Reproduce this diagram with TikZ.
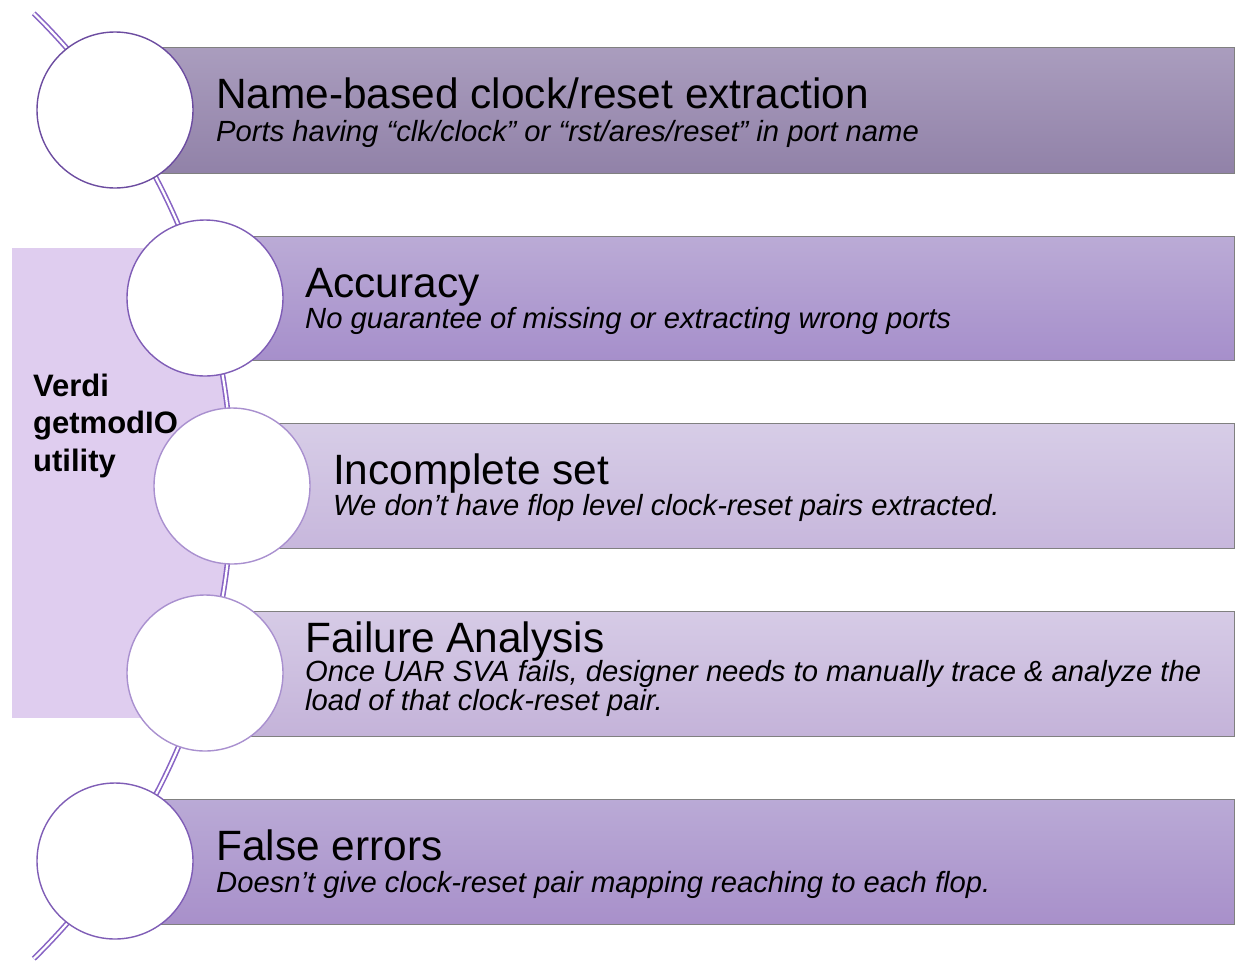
\documentclass[tikz,border=0pt]{standalone}
\usepackage{fontspec}
\setmainfont{Liberation Sans}
\definecolor{panelfill}{RGB}{223, 205, 239}
\definecolor{spinecol}{RGB}{136, 100, 196}
\definecolor{barline}{RGB}{128, 128, 128}
\definecolor{ringdark}{RGB}{108, 76, 160}
\definecolor{ringmid}{RGB}{127, 93, 182}
\definecolor{ringlight}{RGB}{169, 144, 207}
\definecolor{barAtop}{RGB}{170, 157, 190}
\definecolor{barAbot}{RGB}{145, 130, 168}
\definecolor{barBtop}{RGB}{187, 171, 214}
\definecolor{barBbot}{RGB}{166, 143, 203}
\definecolor{barCtop}{RGB}{215, 205, 231}
\definecolor{barCbot}{RGB}{199, 183, 220}
\definecolor{barDtop}{RGB}{214, 203, 230}
\definecolor{barDbot}{RGB}{196, 179, 217}
\definecolor{barEtop}{RGB}{186, 170, 214}
\definecolor{barEbot}{RGB}{168, 144, 202}

\tikzset{
  bar/.style={draw=barline, line width=1pt},
  dot/.style={circle, fill=white, minimum size=156pt, inner sep=0pt, line width=1.4pt},
  head/.style={anchor=base west, inner sep=0pt, font=\fontsize{42.4}{46}\selectfont},
  sub/.style={anchor=base west, inner sep=0pt, align=left, font=\fontsize{29.2}{29}\selectfont\itshape},
  spine/.style={draw=spinecol, line width=1.6pt, double=white, double distance=2.2pt}
}

\begin{document}
\begin{tikzpicture}[x=1pt, y=-1pt]
        \useasboundingbox (0,0) rectangle (1242,962);
        \def\rad{662.7pt}
        \coordinate (bigc) at (-430.7,486);

        % Panel - cut off by the big arc
        \begin{scope}
            \clip (bigc) circle[radius=\rad];
            \fill[panelfill] (12,248) rectangle (400,718);
        \end{scope}

        % Spine
        \draw[spine] (bigc) ++(-45.5:\rad) arc[start angle=-45.5, end angle=45.5, radius=\rad];

        % Bar 1 - Name-based
        \draw[bar, top color=barAtop, bottom color=barAbot] (115,47) rectangle (1234,173);
        % Bar 2 - Accuracy
        \draw[bar, top color=barBtop, bottom color=barBbot] (205,236) rectangle (1234,360);
        % Bar 3 - Incomplete set
        \draw[bar, top color=barCtop, bottom color=barCbot] (232,423) rectangle (1234,548);
        % Bar 4 - Failure Analysis
        \draw[bar, top color=barDtop, bottom color=barDbot] (205,611) rectangle (1234,736);
        % Bar 5 - False errors
        \draw[bar, top color=barEtop, bottom color=barEbot] (115,799) rectangle (1234,924);

        % Circles
        \node[dot, draw=ringdark] (c1) at (115,110) {};
        \node[dot, draw=ringmid] (c2) at (205,298) {};
        \node[dot, draw=ringlight] (c3) at (232,486) {};
        \node[dot, draw=ringlight] (c4) at (205,673) {};
        \node[dot, draw=ringmid] (c5) at (115,861) {};

        % Panel text (base = last line)
        \node[anchor=base west, inner sep=0pt, align=left, font=\fontsize{31}{37.5}\selectfont\bfseries] (tool) at (33,471) {Verdi\\getmodIO\\utility};

        % Texts
        \node[head] (h1) at (216,108) {Name-based clock/reset extraction};
        \node[sub] (s1) at (216,141) {Ports having “clk/clock” or “rst/ares/reset” in port name};
        \node[head] (h2) at (305,297) {Accuracy};
        \node[sub] (s2) at (305,328) {No guarantee of missing or extracting wrong ports};
        \node[head] (h3) at (333,484) {Incomplete set};
        \node[sub] (s3) at (333,515) {We don’t have flop level clock-reset pairs extracted.};
        \node[head] (h4) at (305,652) {Failure Analysis};
        \node[sub] (s4) at (305,710) {Once UAR SVA fails, designer needs to manually trace \& analyze the\\load of that clock-reset pair.};
        \node[head] (h5) at (216,860) {False errors};
        \node[sub] (s5) at (216,892) {Doesn’t give clock-reset pair mapping reaching to each flop.};
    \end{tikzpicture}
\end{document}
